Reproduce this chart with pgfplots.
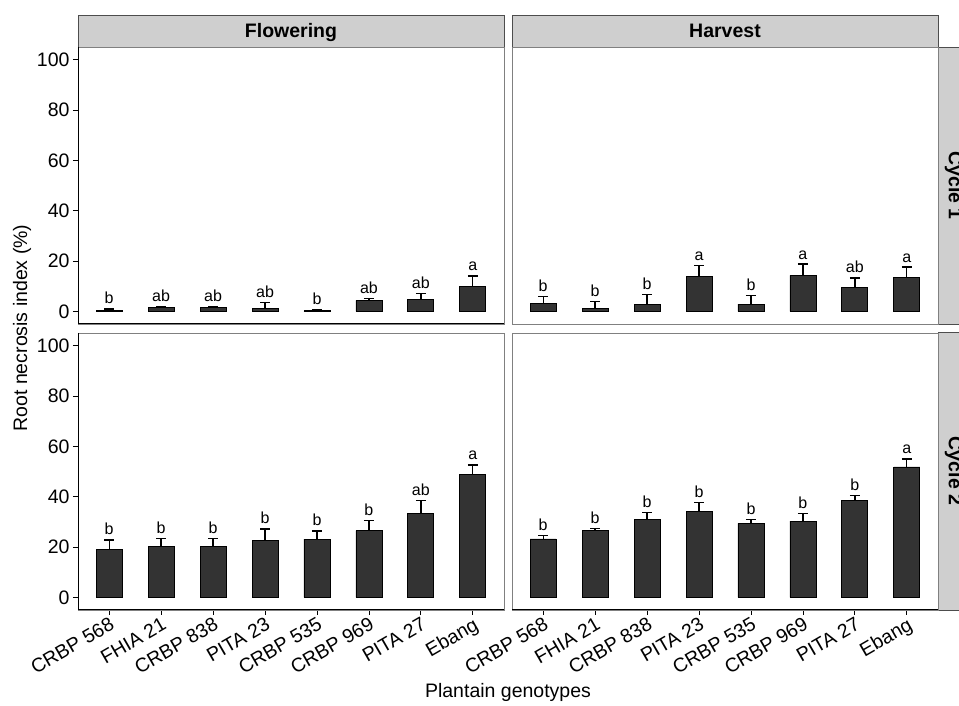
\documentclass[border=0pt]{standalone}
\usepackage{fontspec}
\setmainfont{Liberation Sans}
\usepackage{pgfplots}
\usepackage{pgfplotstable}
\pgfplotsset{compat=1.18}

\definecolor{barfill}{HTML}{333333}
\definecolor{stripfill}{HTML}{CFCFCF}
\definecolor{stripline}{HTML}{4D4D4D}
\definecolor{panelline}{HTML}{808080}

\newcommand\tickfont{\fontsize{19.5}{21}\selectfont}
\newcommand\labfont{\fontsize{16}{18}\selectfont}

% x = genotype, y = mean, e = upper error, lab = letter group
\pgfplotstableread{
x y e lab
1 0.3 0.7 b
2 1.7 0.1 ab
3 1.7 0.1 ab
4 1.3 2.1 ab
5 0.2 0.6 b
6 4.4 0.8 ab
7 4.9 2.1 ab
8 9.8 4.3 a
}\flowA
\pgfplotstableread{
x y e lab
1 3.0 2.9 b
2 1.1 2.9 b
3 2.6 4.1 b
4 13.9 4.2 a
5 2.9 3.4 b
6 14.3 4.5 a
7 9.4 3.9 ab
8 13.5 4.1 a
}\harvA
\pgfplotstableread{
x y e lab
1 18.9 3.9 b
2 20.2 3.2 b
3 20.2 3.3 b
4 22.6 4.6 b
5 23.1 3.3 b
6 26.5 4.1 b
7 33.4 5.0 ab
8 48.7 3.9 a
}\flowB
\pgfplotstableread{
x y e lab
1 23.2 1.3 b
2 26.5 0.8 b
3 31.0 2.8 b
4 34.3 3.4 b
5 29.4 1.5 b
6 30.3 3.1 b
7 38.5 2.1 b
8 51.8 3.2 a
}\harvB

\pgfplotsset{
  panel/.style={
    width=426pt, height=277pt, scale only axis,
    xmin=0.4, xmax=8.6, ymin=-5, ymax=105,
    axis line style={draw=panelline, line width=0.8pt},
    tick align=outside, major tick length=5pt,
    tick style={black, line width=0.8pt},
    xtick pos=bottom, ytick pos=left,
    ytick={0,20,...,100}, xtick={1,...,8},
    ticklabel style={font=\tickfont, text=black},
    /pgf/number format/assume math mode=true,
    clip=false,
  },
  toprow/.style={xtick=\empty},
  rightcol/.style={ytick=\empty},
  botrow/.style={
    xticklabels={CRBP 568, FHIA 21, CRBP 838, PITA 23, CRBP 535, CRBP 969, PITA 27, Ebang},
    xticklabel style={rotate=30, anchor=north east, inner sep=1pt},
  },
}

\newcommand\bars[1]{%
  \addplot[ybar, bar width=0.5, fill=barfill, draw=black, line width=0.8pt,
    error bars/.cd, y dir=plus, y explicit,
    error bar style={black, line width=1.3pt},
    error mark options={rotate=90, black, mark size=5pt, line width=1.3pt}]
    table[x=x, y=y, y error=e] {#1};
  \addplot[draw=none, mark=none, nodes near coords, point meta=explicit symbolic,
    nodes near coords style={anchor=base, inner sep=0pt, yshift=5pt, text=black, font=\labfont}]
    table[x=x, y expr=\thisrow{y}+\thisrow{e}, meta=lab] {#1};
}

\begin{document}
\begin{tikzpicture}[x=1pt, y=1pt]
\useasboundingbox (0,0) rectangle (959,706);
\clip (0,0) rectangle (959,706);

% strips
\draw[fill=stripfill, draw=stripline, line width=0.8pt] (78,659) rectangle (504,691);
\draw[fill=stripfill, draw=stripline, line width=0.8pt] (512,659) rectangle (938,691);
\draw[fill=stripfill, draw=stripline, line width=0.8pt] (938,382) rectangle (970,659);
\draw[fill=stripfill, draw=stripline, line width=0.8pt] (938,96) rectangle (970,374);
\node[font=\tickfont\bfseries, anchor=base] at (291,668) {Flowering};
\node[font=\tickfont\bfseries, anchor=base] at (725,668) {Harvest};
\node[font=\tickfont\bfseries, rotate=-90] at (954,520.5) {Cycle 1};
\node[font=\tickfont\bfseries, rotate=-90] at (954,235) {Cycle 2};

\begin{axis}[panel, toprow, name=tl, at={(78pt,382pt)}, anchor=south west]
\bars{\flowA}
\end{axis}
\begin{axis}[panel, toprow, rightcol, name=tr, at={(512pt,382pt)}, anchor=south west]
\bars{\harvA}
\end{axis}
\begin{axis}[panel, botrow, name=bl, at={(78pt,96pt)}, anchor=south west]
\bars{\flowB}
\end{axis}
\begin{axis}[panel, botrow, rightcol, name=br, at={(512pt,96pt)}, anchor=south west]
\bars{\harvB}
\end{axis}

% axis lines on the outer sides
\draw[black, line width=1pt] (tl.north west) -- (tl.south west) -- (tl.south east);
\draw[black, line width=1pt] (bl.north west) -- (bl.south west) -- (bl.south east);
\draw[black, line width=1pt] (br.south west) -- (br.south east);

\node[font=\tickfont, rotate=90] at (22,378) {Root necrosis index (\%)};
\node[font=\tickfont] at (508,14) {Plantain genotypes};
\end{tikzpicture}
\end{document}
